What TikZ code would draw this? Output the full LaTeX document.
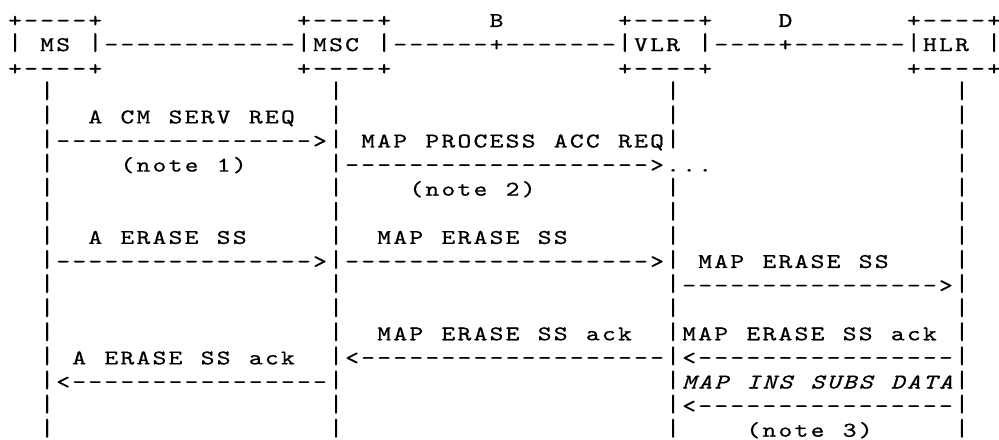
\documentclass[tikz,border=0pt]{standalone}
\usepackage{graphicx}
\usepackage{fontspec}
\newfontfamily\asciimono{Latin Modern Mono}[FakeBold=0.6]
\newlength\cw
\setlength\cw{8.025pt}
\def\cellrowi#1{\ifx#1\relax\else
  \ifx#1|\makebox[\cw][c]{\raisebox{0.5pt}{\scalebox{1.25}[1.17]{|}}}%
  \else\makebox[\cw][c]{\scalebox{1.25}[1]{#1}}\fi
  \expandafter\cellrowi\fi}
\newcommand\cellrow[1]{\cellrowi#1\relax}
\tikzset{
  cell/.style={anchor=base west, inner sep=0pt, outer sep=0pt, text=black,
    font=\fontsize{10.5}{12}\selectfont\asciimono},
  italiccell/.style={font=\fontsize{10.5}{12}\selectfont\asciimono\itshape}
}
% \frag[style]{column}{row}{characters, ~ for a space}
\newcommand\frag[4][]{\node[cell,#1] (r#3c#2) at ({3.5pt+#2*8.025pt},{206pt-#3*12.05pt}) {\cellrow{#4}};}
\begin{document}
\begin{tikzpicture}
\useasboundingbox (0,0) rectangle (499.5pt,219.5pt);
\fill[white] (0,0) rectangle (499.5pt,219.5pt);
% row 0
\frag{0}{0}{+----+}\frag{18}{0}{+----+}\frag{30}{0}{B}\frag{38}{0}{+----+}\frag{48}{0}{D}\frag{56}{0}{+----+}
% row 1
\frag{0}{1}{|~MS~|------------|MSC~|------+-------|VLR~|----+-------|HLR~|}
% row 2
\frag{0}{2}{+----+}\frag{18}{2}{+----+}\frag{38}{2}{+----+}\frag{56}{2}{+----+}
% row 3
\frag{2}{3}{|}\frag{20}{3}{|}\frag{41}{3}{|}\frag{59}{3}{|}
% row 4
\frag{2}{4}{|}\frag{5}{4}{A~CM~SERV~REQ}\frag{20}{4}{|}\frag{41}{4}{|}\frag{59}{4}{|}
% row 5
\frag{2}{5}{|---------------->|~MAP~PROCESS~ACC~REQ|}\frag{59}{5}{|}
% row 6
\frag{2}{6}{|}\frag{7}{6}{(note~1)}\frag{20}{6}{|------------------->...}\frag{59}{6}{|}
% row 7
\frag{2}{7}{|}\frag{20}{7}{|}\frag{25}{7}{(note~2)}\frag{41}{7}{|}\frag{59}{7}{|}
% row 8
\frag{2}{8}{|}\frag{20}{8}{|}\frag{41}{8}{|}\frag{59}{8}{|}
% row 9
\frag{2}{9}{|}\frag{5}{9}{A~ERASE~SS}\frag{20}{9}{|}\frag{23}{9}{MAP~ERASE~SS}\frag{41}{9}{|}\frag{59}{9}{|}
% row 10
\frag{2}{10}{|---------------->|------------------->|~MAP~ERASE~SS}\frag{59}{10}{|}
% row 11
\frag{2}{11}{|}\frag{20}{11}{|}\frag{41}{11}{|---------------->|}
% row 12
\frag{2}{12}{|}\frag{20}{12}{|}\frag{41}{12}{|}\frag{59}{12}{|}
% row 13
\frag{2}{13}{|}\frag{20}{13}{|}\frag{23}{13}{MAP~ERASE~SS~ack}\frag{41}{13}{|MAP~ERASE~SS~ack}\frag{59}{13}{|}
% row 14
\frag{2}{14}{|}\frag{4}{14}{A~ERASE~SS~ack}\frag{20}{14}{|<-------------------|<----------------|}
% row 15
\frag{2}{15}{|<----------------|}\frag{41}{15}{|}\frag[italiccell]{42}{15}{MAP~INS~SUBS~DATA}\frag{59}{15}{|}
% row 16
\frag{2}{16}{|}\frag{20}{16}{|}\frag{41}{16}{|<----------------|}
% row 17
\frag{2}{17}{|}\frag{20}{17}{|}\frag{41}{17}{|}\frag{46}{17}{(note~3)}\frag{59}{17}{|}
\end{tikzpicture}
\end{document}
